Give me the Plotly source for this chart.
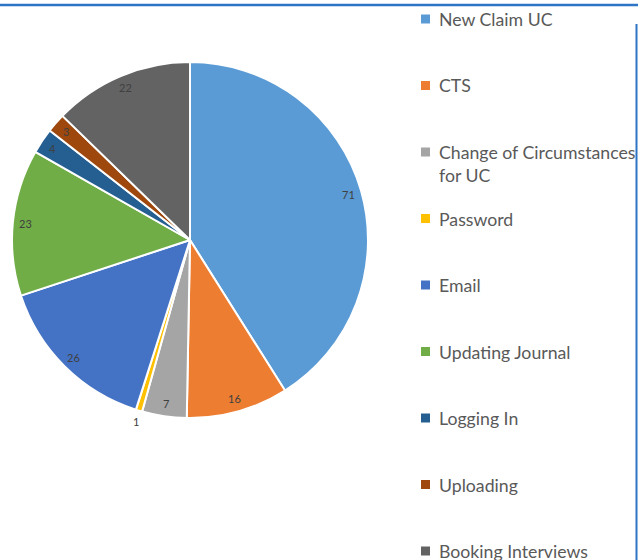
import math
import plotly.graph_objects as go

categories = ["New Claim UC", "CTS", "Change of Circumstances for UC", "Password", "Email",
              "Updating Journal", "Logging In", "Uploading", "Booking Interviews"]
legend_labels = ["New Claim UC", "CTS", "Change of Circumstances<br>for UC", "Password", "Email",
                 "Updating Journal", "Logging In", "Uploading", "Booking Interviews"]
values = [71, 16, 7, 1, 26, 23, 4, 3, 22]
colors = ["#5B9BD5", "#ED7D31", "#A5A5A5", "#FFC000", "#4472C4",
          "#70AD47", "#255E91", "#9E480E", "#636363"]

W, H = 638, 560
cx, cy, R = 190, 240, 178
FONT = "Lato, Liberation Sans, sans-serif"

fig = go.Figure()
fig.add_trace(go.Pie(
    labels=categories, values=values, sort=False, direction="clockwise", rotation=0,
    marker=dict(colors=colors, line=dict(color="white", width=2)),
    textinfo="none", hoverinfo="label+value", showlegend=False,
    domain=dict(x=[(cx - R) / W, (cx + R) / W], y=[1 - (cy + R) / H, 1 - (cy - R) / H]),
))

# data labels near outer end of each slice (tiny slices get the label just outside)
total = sum(values)
cum = 0
for v in values:
    mid = (cum + v / 2) / total * 2 * math.pi
    cum += v
    frac = 0.927 if v / total > 0.01 else 1.066
    px = cx + frac * R * math.sin(mid)
    py = cy - frac * R * math.cos(mid)
    fig.add_annotation(x=px / W, y=1 - py / H, xref="paper", yref="paper", text=str(v),
                       xanchor="center", yanchor="middle", showarrow=False,
                       font=dict(size=11, color="#404040", family=FONT))

# legend (drawn as annotations + square markers so it can run off the page edge like the original)
for i, (lab, col) in enumerate(zip(legend_labels, colors)):
    yc = 19 + 66.5 * i
    fig.add_shape(type="rect", xref="paper", yref="paper",
                  x0=421 / W, x1=430 / W, y0=1 - (yc + 4.5) / H, y1=1 - (yc - 4.5) / H,
                  fillcolor=col, line=dict(width=0))
    fig.add_annotation(x=437 / W, y=1 - (yc - 12) / H, xref="paper", yref="paper",
                       xanchor="left", yanchor="top", align="left", text=lab, showarrow=False,
                       font=dict(size=17.7, color="#595959", family=FONT))

fig.add_shape(type="line", xref="paper", yref="paper", x0=0, x1=1, y0=1 - 5 / H, y1=1 - 5 / H,
              line=dict(color="#2E75C6", width=2.5))
fig.add_shape(type="line", xref="paper", yref="paper", x0=636.5 / W, x1=636.5 / W, y0=0, y1=1 - 24 / H,
              line=dict(color="#2E75C6", width=2))

fig.update_layout(
    width=W, height=H, margin=dict(l=0, r=0, t=0, b=0),
    paper_bgcolor="white", plot_bgcolor="white", showlegend=False,
)

fig.write_html("out.html", config={"displayModeBar": False},
               post_script="document.body.style.margin='0';")
